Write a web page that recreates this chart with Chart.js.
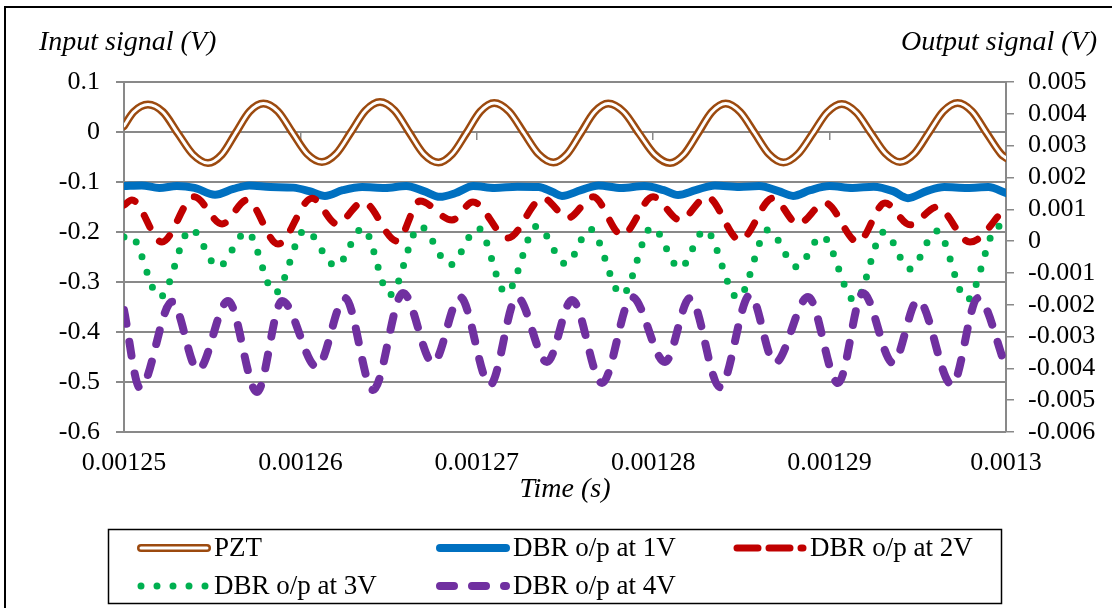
<!DOCTYPE html>
<html>
<head>
<meta charset="utf-8">
<title>PZT input and DBR output signals</title>
<script src="https://cdn.jsdelivr.net/npm/chart.js@4.4.1/dist/chart.umd.min.js"></script>
<style>
  html, body { margin: 0; padding: 0; background: #fff; }
  canvas { display: block; }
</style>
</head>
<body>
<canvas id="signal-chart" width="1112" height="608"></canvas>
<script>
// Axis ranges (seconds / volts)
const timeRange = [0.00125, 0.0013];
const timeStep = 0.00001;
const inputRange = [-0.6, 0.1];
const inputStep = 0.1;
const outputRange = [-0.006, 0.005];
const outputStep = 0.001;

// PZT drive signal, left axis (time in microseconds)
const pztTime = [1250.00, 1250.54, 1251.36, 1252.21, 1253.06, 1253.91, 1254.76, 1255.55, 1256.33, 1257.12,
  1257.90, 1258.73, 1259.56, 1260.39, 1261.22, 1262.04, 1262.87, 1263.69, 1264.51, 1265.34,
  1266.17, 1266.99, 1267.82, 1268.61, 1269.41, 1270.20, 1270.99, 1271.83, 1272.67, 1273.50,
  1274.34, 1275.12, 1275.90, 1276.67, 1277.45, 1278.33, 1279.20, 1280.08, 1280.95, 1281.74,
  1282.53, 1283.32, 1284.11, 1284.93, 1285.75, 1286.56, 1287.38, 1288.21, 1289.04, 1289.86,
  1290.69, 1291.52, 1292.34, 1293.17, 1293.99, 1294.81, 1295.63, 1296.44, 1297.26, 1298.08,
  1298.90, 1299.72, 1300.00];
const pztVolt = [0.012, 0.040, 0.055, 0.040, -0.003, -0.045, -0.062, -0.045, -0.002, 0.041,
  0.057, 0.041, -0.002, -0.044, -0.060, -0.043, 0.000, 0.043, 0.060, 0.043,
  -0.001, -0.044, -0.061, -0.044, -0.002, 0.041, 0.058, 0.041, -0.002, -0.044,
  -0.061, -0.044, -0.002, 0.040, 0.057, 0.040, -0.003, -0.045, -0.062, -0.045,
  -0.003, 0.040, 0.057, 0.040, -0.002, -0.044, -0.061, -0.044, -0.003, 0.039,
  0.056, 0.039, -0.002, -0.043, -0.060, -0.043, -0.001, 0.041, 0.058, 0.041,
  -0.002, -0.044, -0.052];

// DBR output at 1V, right axis
const dbr1Time = [1250.0, 1251.0, 1252.0, 1253.0, 1254.0, 1255.16, 1256.2, 1257.1, 1258.3, 1259.6,
  1260.5, 1261.39, 1262.4, 1263.5, 1264.8, 1266.0, 1267.0, 1267.91, 1268.8, 1269.8,
  1271.0, 1272.3, 1273.5, 1274.3, 1274.83, 1275.9, 1276.9, 1278.2, 1279.5, 1280.6,
  1281.41, 1282.4, 1283.5, 1284.9, 1286.0, 1287.1, 1287.93, 1288.9, 1290.0, 1291.3,
  1292.5, 1293.6, 1294.44, 1295.5, 1296.5, 1297.8, 1299.0, 1300.0];
const dbr1Volt = [0.00173, 0.00175, 0.00167, 0.00173, 0.00167, 0.00146, 0.00164, 0.00175, 0.00170, 0.00168,
  0.00157, 0.00142, 0.00160, 0.00170, 0.00167, 0.00173, 0.00157, 0.00139, 0.00151, 0.00173,
  0.00167, 0.00171, 0.00170, 0.00154, 0.00142, 0.00160, 0.00175, 0.00167, 0.00173, 0.00160,
  0.00145, 0.00160, 0.00175, 0.00170, 0.00173, 0.00157, 0.00142, 0.00160, 0.00173, 0.00167,
  0.00171, 0.00157, 0.00135, 0.00157, 0.00170, 0.00167, 0.00170, 0.00151];

// DBR output at 2V
const dbr2Time = [1250.00, 1250.45, 1252.15, 1253.97, 1255.56, 1256.97, 1258.73, 1260.66, 1262.07, 1263.55,
  1265.48, 1266.78, 1268.59, 1269.78, 1271.77, 1273.75, 1275.17, 1276.59, 1278.23, 1279.99,
  1281.52, 1283.05, 1284.92, 1286.79, 1288.21, 1289.74, 1291.61, 1293.14, 1294.56, 1296.09,
  1297.96, 1300.00];
const dbr2Volt = [0.00113, 0.00129, -0.00003, 0.00139, 0.00054, 0.00129, -0.00009, 0.00135, 0.00054, 0.00123,
  0.00000, 0.00126, 0.00066, 0.00123, 0.00010, 0.00135, 0.00073, 0.00139, 0.00019, 0.00139,
  0.00066, 0.00139, 0.00003, 0.00135, 0.00054, 0.00120, -0.00003, 0.00120, 0.00051, 0.00107,
  -0.00003, 0.00107];

// DBR output at 3V
const dbr3Time = [1250.00, 1250.34, 1252.04, 1253.80, 1255.33, 1256.97, 1258.56, 1260.26, 1262.02, 1263.55,
  1265.08, 1266.78, 1268.48, 1270.07, 1271.66, 1273.41, 1275.06, 1276.42, 1278.23, 1279.93,
  1281.52, 1282.94, 1284.81, 1286.51, 1288.15, 1289.57, 1291.44, 1293.08, 1294.56, 1296.09,
  1297.79, 1299.55, 1300.00];
const dbr3Volt = [0.00013, 0.00019, -0.00176, 0.00038, -0.00081, 0.00029, -0.00163, 0.00035, -0.00078, 0.00041,
  -0.00169, 0.00047, -0.00075, 0.00041, -0.00163, 0.00047, -0.00072, 0.00038, -0.00169, 0.00044,
  -0.00085, 0.00035, -0.00179, 0.00035, -0.00081, 0.00016, -0.00188, 0.00029, -0.00088, 0.00032,
  -0.00185, 0.00047, 0.00019];

// DBR output at 4V
const dbr4Time = [1250.00, 1250.91, 1252.72, 1254.20, 1255.90, 1257.54, 1258.96, 1260.94, 1262.53, 1264.12,
  1265.82, 1267.52, 1269.05, 1270.75, 1272.28, 1273.98, 1275.40, 1277.10, 1278.80, 1280.67,
  1282.09, 1283.79, 1285.49, 1286.90, 1288.78, 1290.48, 1291.89, 1293.59, 1295.01, 1296.94,
  1298.41, 1300.00];
const dbr4Volt = [-0.00217, -0.00462, -0.00191, -0.00405, -0.00188, -0.00474, -0.00188, -0.00396, -0.00179, -0.00468,
  -0.00163, -0.00383, -0.00176, -0.00452, -0.00176, -0.00380, -0.00185, -0.00446, -0.00176, -0.00380,
  -0.00179, -0.00459, -0.00169, -0.00383, -0.00176, -0.00446, -0.00163, -0.00383, -0.00185, -0.00452,
  -0.00179, -0.00396];

// Legend grid: column starts and row centres
const legendCols = [137, 436, 733];
const legendRows = [548, 586];

const GRID = '#898989';
const FONT = "'Liberation Serif', 'Times New Roman', serif";

Chart.defaults.font.family = FONT;
Chart.defaults.font.size = 26;
Chart.defaults.color = '#000';

function points(times, volts) {
  return times.map((t, i) => ({ x: t / 1e6, y: volts[i] }));
}

// Draws the axis captions above the plot and the outer frame
const captions = {
  id: 'captions',
  afterDraw(chart) {
    const ctx = chart.ctx;
    ctx.save();
    ctx.fillStyle = '#000';
    ctx.font = 'italic 28px ' + FONT;
    ctx.textBaseline = 'alphabetic';
    ctx.textAlign = 'left';
    ctx.fillText('Input signal (V)', 39, 50);
    ctx.textAlign = 'right';
    ctx.fillText('Output signal (V)', 1097, 50);

    ctx.strokeStyle = '#000';
    ctx.lineWidth = 2;
    ctx.beginPath();
    ctx.moveTo(5, chart.height + 10);
    ctx.lineTo(5, 7);
    ctx.lineTo(chart.width + 10, 7);
    ctx.stroke();
    ctx.restore();
  }
};

// Boxed legend laid out in fixed columns, samples drawn with each series' stroke
const boxedLegend = {
  id: 'boxedLegend',
  afterDraw(chart) {
    const ctx = chart.ctx;
    const sets = chart.data.datasets;
    ctx.save();
    ctx.strokeStyle = '#000';
    ctx.lineWidth = 1.5;
    ctx.strokeRect(108.5, 529.5, 893, 74);

    let slot = 0;
    sets.forEach(ds => {
      if (ds.inner) return;
      const x = legendCols[slot % 3];
      const y = legendRows[Math.floor(slot / 3)];
      slot++;
      const strokes = [ds].concat(sets.filter(d => d.inner && d.label === ds.label));
      strokes.forEach(s => {
        ctx.save();
        ctx.strokeStyle = s.borderColor;
        ctx.lineWidth = s.borderWidth;
        ctx.lineCap = 'round';
        ctx.setLineDash(s.legendDash || s.borderDash || []);
        ctx.beginPath();
        ctx.moveTo(x + 4, y);
        ctx.lineTo(x + 70, y);
        ctx.stroke();
        ctx.restore();
      });
      ctx.fillStyle = '#000';
      ctx.font = '27px ' + FONT;
      ctx.textAlign = 'left';
      ctx.textBaseline = 'middle';
      ctx.fillText(ds.label, x + 77, y + 1);
    });
    ctx.restore();
  }
};

const lineDefaults = {
  pointRadius: 0,
  pointHoverRadius: 0,
  fill: false,
  cubicInterpolationMode: 'monotone',
  borderJoinStyle: 'round',
  borderCapStyle: 'round'
};

const chart = new Chart(document.getElementById('signal-chart'), {
  type: 'line',
  data: {
    datasets: [
      { ...lineDefaults, label: 'PZT', data: points(pztTime, pztVolt), yAxisID: 'y',
        borderColor: '#9c4a0f', borderWidth: 8, order: 6 },
      { ...lineDefaults, label: 'PZT', inner: true, data: points(pztTime, pztVolt), yAxisID: 'y',
        borderColor: '#ffffff', borderWidth: 3, order: 5 },
      { ...lineDefaults, label: 'DBR o/p at 1V', data: points(dbr1Time, dbr1Volt), yAxisID: 'y2',
        borderColor: '#0070c0', borderWidth: 8, order: 4 },
      { ...lineDefaults, label: 'DBR o/p at 2V', data: points(dbr2Time, dbr2Volt), yAxisID: 'y2',
        borderColor: '#c00000', borderWidth: 7, borderDash: [13, 17], legendDash: [21, 11], order: 3 },
      { ...lineDefaults, label: 'DBR o/p at 3V', data: points(dbr3Time, dbr3Volt), yAxisID: 'y2',
        borderColor: '#00b050', borderWidth: 7, borderDash: [0, 16], order: 2 },
      { ...lineDefaults, label: 'DBR o/p at 4V', data: points(dbr4Time, dbr4Volt), yAxisID: 'y2',
        borderColor: '#7030a0', borderWidth: 8, borderDash: [14, 18], order: 1 }
    ]
  },
  options: {
    responsive: false,
    animation: false,
    layout: { padding: { top: 82, left: 0, right: 0, bottom: 0 } },
    plugins: {
      legend: { display: false },
      tooltip: { enabled: false }
    },
    scales: {
      x: {
        type: 'linear',
        position: 'bottom',
        min: timeRange[0],
        max: timeRange[1],
        grid: { display: false, drawTicks: false },
        border: { display: false },
        ticks: {
          stepSize: timeStep,
          padding: 16,
          autoSkip: false,
          maxRotation: 0,
          callback: v => String(+v.toFixed(5))
        },
        title: {
          display: true,
          text: 'Time (s)',
          font: { size: 28, style: 'italic' },
          padding: { top: 0, bottom: 102 }
        },
        afterFit: s => { s.height = 176; }
      },
      // tick marks along the zero line of the input axis
      xMarks: {
        type: 'linear',
        axis: 'x',
        position: { y: 0 },
        min: timeRange[0],
        max: timeRange[1],
        grid: { drawOnChartArea: false, drawTicks: true, tickLength: 8, color: GRID, lineWidth: 1.5 },
        border: { display: false },
        ticks: { stepSize: timeStep, display: false, autoSkip: false }
      },
      y: {
        type: 'linear',
        position: 'left',
        min: inputRange[0],
        max: inputRange[1],
        grid: { color: GRID, lineWidth: 2, tickLength: 8 },
        border: { display: true, color: GRID, width: 2 },
        ticks: {
          stepSize: inputStep,
          autoSkip: false,
          padding: 16,
          callback: v => String(+v.toFixed(1))
        },
        afterFit: s => { s.width = 124; }
      },
      y2: {
        type: 'linear',
        position: 'right',
        min: outputRange[0],
        max: outputRange[1],
        grid: { drawOnChartArea: false, color: GRID, lineWidth: 1.5, tickLength: 8 },
        border: { display: true, color: GRID, width: 2 },
        ticks: {
          stepSize: outputStep,
          autoSkip: false,
          maxTicksLimit: 20,
          padding: 14,
          callback: v => String(+v.toFixed(3))
        },
        afterFit: s => { s.width = 106; }
      }
    }
  },
  plugins: [captions, boxedLegend]
});
</script>
</body>
</html>
